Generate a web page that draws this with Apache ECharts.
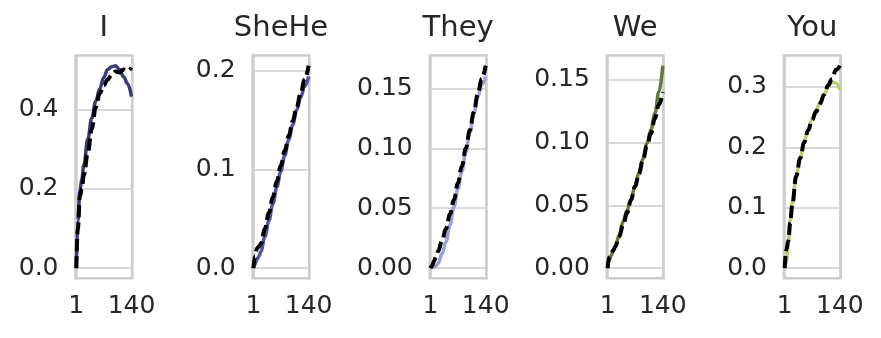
<!DOCTYPE html>
<html>
<head>
<meta charset="utf-8">
<script src="https://cdn.jsdelivr.net/npm/echarts@6/dist/echarts.min.js"></script>
<style>
  html, body { margin: 0; padding: 0; background: #fff; }
  #chart { width: 881px; height: 338px; }
</style>
</head>
<body>
<div id="chart"></div>
<script>
// x positions the values were read at
const steps = [1, 5, 10, 15, 20, 30, 40, 50, 60, 70, 80, 90, 100, 110, 120, 130, 140];

const pronouns = ['I', 'SheHe', 'They', 'We', 'You'];
const colors = ['#393b79', '#5254a3', '#9c9ede', '#637939', '#b5cf6b'];

// solid (coloured) lines
const solidI     = [0, 0.12, 0.195, 0.225, 0.26, 0.325, 0.378, 0.42, 0.452, 0.48, 0.5, 0.507, 0.51, 0.5, 0.482, 0.465, 0.432];
const solidSheHe = [0, 0.004, 0.009, 0.012, 0.017, 0.032, 0.048, 0.065, 0.082, 0.098, 0.114, 0.13, 0.145, 0.16, 0.173, 0.184, 0.194];
const solidThey  = [0, 0.0005, 0.001, 0.002, 0.004, 0.012, 0.022, 0.036, 0.051, 0.066, 0.081, 0.097, 0.113, 0.129, 0.143, 0.153, 0.16];
const solidWe    = [0, 0.006, 0.01, 0.014, 0.017, 0.026, 0.037, 0.046, 0.055, 0.065, 0.076, 0.087, 0.099, 0.11, 0.123, 0.14, 0.161];
const solidYou   = [0, 0.01, 0.04, 0.08, 0.108, 0.152, 0.182, 0.208, 0.229, 0.247, 0.261, 0.274, 0.287, 0.299, 0.308, 0.306, 0.295];

// black dashed lines
const dashedI     = [0, 0.1, 0.18, 0.2, 0.235, 0.29, 0.35, 0.405, 0.44, 0.46, 0.475, 0.487, 0.495, 0.493, 0.5, 0.497, 0.505];
const dashedSheHe = [0, 0.012, 0.02, 0.022, 0.025, 0.04, 0.056, 0.072, 0.088, 0.104, 0.119, 0.134, 0.149, 0.163, 0.177, 0.191, 0.205];
const dashedThey  = [0, 0.002, 0.006, 0.01, 0.014, 0.023, 0.033, 0.045, 0.057, 0.071, 0.085, 0.1, 0.115, 0.13, 0.145, 0.158, 0.169];
const dashedWe    = [0, 0.009, 0.012, 0.014, 0.017, 0.025, 0.034, 0.044, 0.054, 0.065, 0.075, 0.086, 0.097, 0.107, 0.119, 0.13, 0.14];
const dashedYou   = [0, 0.03, 0.045, 0.075, 0.105, 0.152, 0.182, 0.208, 0.228, 0.245, 0.259, 0.272, 0.287, 0.302, 0.313, 0.328, 0.335];

const yTickLabels = [
    ['0.0', '0.2', '0.4'],
    ['0.0', '0.1', '0.2'],
    ['0.00', '0.05', '0.10', '0.15'],
    ['0.00', '0.05', '0.10', '0.15'],
    ['0.0', '0.1', '0.2', '0.3']
];
const xTickLabels = [1, 140];

const solids = [solidI, solidSheHe, solidThey, solidWe, solidYou];
const dashes = [dashedI, dashedSheHe, dashedThey, dashedWe, dashedYou];

// panel geometry
const firstLeft = 75.5, step = 177.1, boxW = 56.8, boxTop = 55.5, boxH = 222.8;
const font = 'DejaVu Sans';
const gridColor = '#cccccc';
const textColor = '#262626';

const grids = [], xAxes = [], yAxes = [], series = [], titles = [];

pronouns.forEach(function (name, i) {
    const left = firstLeft + i * step;
    grids.push({
        left: left, top: boxTop, width: boxW, height: boxH,
        show: true, borderColor: gridColor, borderWidth: 2.5,
        backgroundColor: 'transparent', containLabel: false, outerBoundsMode: 'none'
    });
    titles.push({
        text: name, left: left + boxW / 2, top: 14, textAlign: 'center', padding: 0,
        textStyle: { fontFamily: font, fontSize: 29, fontWeight: 'normal', color: textColor }
    });
    xAxes.push({
        type: 'value', gridIndex: i, min: -1, max: 142,
        axisLine: { show: false },
        axisTick: { show: false, customValues: xTickLabels },
        splitLine: { show: true, lineStyle: { color: gridColor, width: 1.5 } },
        axisLabel: {
            customValues: xTickLabels, margin: 16,
            fontFamily: font, fontSize: 25, color: textColor
        }
    });
    const ticks = yTickLabels[i];
    const tickVals = ticks.map(Number);
    const decimals = ticks[0].split('.')[1].length;
    const top = Math.max.apply(null, solids[i].concat(dashes[i]));
    yAxes.push({
        type: 'value', gridIndex: i, min: -0.05 * top, max: 1.05 * top,
        axisLine: { show: false },
        axisTick: { show: false, customValues: tickVals },
        splitLine: { show: true, lineStyle: { color: gridColor, width: 1.5 } },
        axisLabel: {
            customValues: tickVals, margin: 17, padding: [4, 0, 0, 0],
            fontFamily: font, fontSize: 25, color: textColor,
            formatter: function (v) { return v.toFixed(decimals); }
        }
    });
    series.push({
        type: 'line', xAxisIndex: i, yAxisIndex: i,
        data: steps.map(function (x, k) { return [x, solids[i][k]]; }),
        smooth: 0.4, smoothMonotone: 'x', showSymbol: false, clip: false,
        lineStyle: { color: colors[i], width: 3.5 }
    });
    series.push({
        type: 'line', xAxisIndex: i, yAxisIndex: i,
        data: steps.map(function (x, k) { return [x, dashes[i][k]]; }),
        smooth: 0.4, smoothMonotone: 'x', showSymbol: false, clip: false,
        lineStyle: { color: '#000', width: 4, type: [12, 5], cap: 'butt' }
    });
});

const chart = echarts.init(document.getElementById('chart'));
chart.setOption({
    animation: false,
    backgroundColor: '#fff',
    title: titles,
    grid: grids,
    xAxis: xAxes,
    yAxis: yAxes,
    series: series
});
</script>
</body>
</html>
